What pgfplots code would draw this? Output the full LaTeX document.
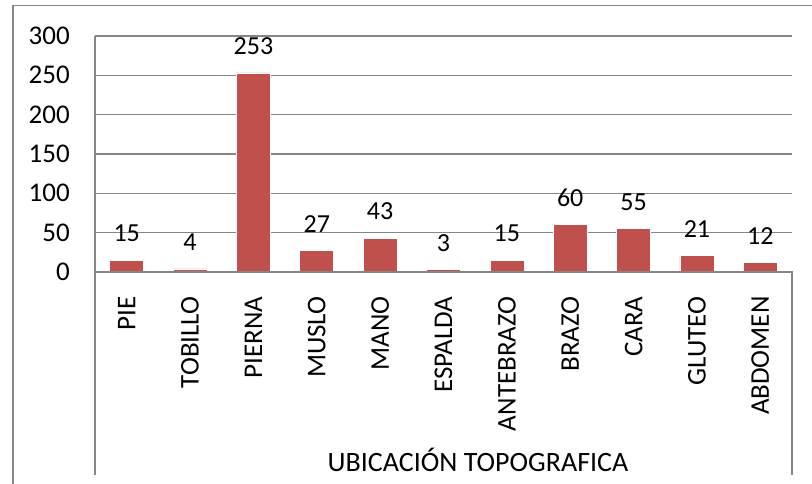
\documentclass[border=0pt]{standalone}
\usepackage{fontspec}
\setmainfont{Carlito}
\usepackage{pgfplots}
\pgfplotsset{compat=1.18}
\definecolor{barred}{HTML}{C0504D}
\definecolor{gridgray}{HTML}{868686}

\begin{document}
\begin{tikzpicture}[x=1pt,y=1pt]
\useasboundingbox (-95,-212) rectangle (717,272);
% outer chart frame (left and top edges only are in view)
\draw[gridgray, line width=1.3pt] (-82,-212) -- (-82,266.5) -- (717,266.5);
\begin{axis}[
  at={(0,0)}, anchor=south west,
  scale only axis, width=697pt, height=236pt,
  xmin=-0.5, xmax=10.5, ymin=0, ymax=300,
  ytick={0,50,...,300}, xtick=data,
  xticklabels={PIE,TOBILLO,PIERNA,MUSLO,MANO,ESPALDA,ANTEBRAZO,BRAZO,CARA,GLUTEO,ABDOMEN},
  axis line style={draw=none}, tick style={draw=none},
  ymajorgrids, grid style={gridgray, line width=1.1pt},
  ybar, bar width=34pt, bar shift=0pt,
  font=\fontsize{27}{31}\selectfont,
  /pgf/number format/assume math mode=true,
  yticklabel style={inner sep=0pt}, yticklabel shift=25pt,
  xticklabel style={rotate=90, anchor=east, inner sep=0pt}, xticklabel shift=20pt,
  nodes near coords,
  nodes near coords style={anchor=south, inner sep=0pt, yshift=18pt, black,
    font=\fontsize{26}{30}\selectfont},
  clip=false,
]
\addplot[fill=barred, draw=white, line width=0.6pt] coordinates {
  (0,15) (1,4) (2,253) (3,27) (4,43) (5,3) (6,15) (7,60) (8,55) (9,21) (10,12)};
\end{axis}
% axis lines and category box
\draw[gridgray, line width=1.3pt] (0,236) -- (0,-203);
\draw[gridgray, line width=1.3pt] (0,0) -- (697,0) -- (697,-203);
\node[font=\fontsize{28}{32}\selectfont] at (383,-188) {UBICACIÓN TOPOGRAFICA};
\end{tikzpicture}
\end{document}
